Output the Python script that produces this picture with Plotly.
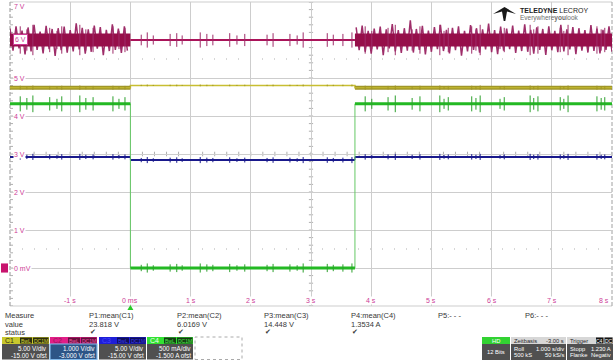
import numpy as np
import plotly.graph_objects as go

W, H = 616, 360
X0, X1 = 10, 612      # graticule pixel bounds (x)
Y0, Y1 = 2, 306       # graticule pixel bounds (y)

# ---------------- channel settings (from the scope) ----------------
T_MIN, T_MAX = -2.0, 8.0          # 1.000 s/div, 10 div
C1_VDIV, C1_OFST = 5.0, -15.0     # V
C2_VDIV, C2_OFST = 1.0, -3.0      # V
C3_VDIV, C3_OFST = 5.0, -15.0     # V
C4_VDIV, C4_OFST = 0.5, -1.5      # A

# ---------------- data ----------------
edge_t = [0.0, 3.73]              # load switching instants (s)

c1_noisy, c1_quiet = 23.72, 24.02     # C1 level (V) load on / load off
c2_level = 6.0                        # C2 level (V)
c3_on, c3_off = 14.62, 14.20          # C3 level (V)
c4_on, c4_off = 2.16, 0.0             # C4 current (A)

# ripple events (s)
event_t = [-1.83, -1.72, -1.62, -1.34, -1.22, -1.14, -0.84, -0.74, -0.62, -0.29, -0.19, -0.09,
           0.18, 0.28, 0.38, 0.66, 0.77, 0.86, 1.16, 1.27, 1.37, 1.65, 1.77, 1.90, 2.27, 2.37,
           2.65, 2.77, 2.87, 3.27, 3.37, 3.53, 3.68,
           3.90, 4.01, 4.28, 4.40, 4.68, 4.81, 5.14, 5.21, 5.28, 5.67, 5.74, 5.81, 6.14, 6.21,
           6.64, 6.70, 6.77, 7.14, 7.20, 7.27, 7.75, 7.82, 7.88]
event_rel = [0.9, 0.7, 1.0, 0.8, 0.6, 0.9, 1.0, 0.7, 0.8, 0.9, 0.6, 0.8,
             0.7, 1.0, 0.6, 0.8, 0.9, 0.6, 1.0, 0.8, 0.7, 0.9, 0.6, 0.8, 0.7, 0.9,
             0.8, 0.6, 1.0, 0.9, 0.7, 0.8, 1.0,
             0.9, 0.6, 0.8, 1.0, 0.7, 0.9, 1.0, 0.6, 0.8, 0.9, 0.7, 1.0, 0.6, 0.8,
             1.0, 0.7, 0.9, 0.8, 0.6, 1.0, 0.9, 0.7, 0.8]

# spike half-heights per channel (physical units)
c1_spike_quiet, c1_spike_noisy = 0.12, 0.30
c2_spike_quiet, c2_spike_noisy = 0.20, 0.40
c3_spike = 0.40
c4_spike_on, c4_spike_off = 0.11, 0.06

# C2 heavy ripple excursions (V from level), sampled every NOISE_DT
NOISE_DT = 0.05
c2_noise_pre = [0.30, -0.28, 0.36, -0.22, 0.25, -0.38, 0.33, -0.30, 0.40, -0.26,
                0.22, -0.35, 0.37, -0.24, 0.29, -0.42, 0.31, -0.27, 0.35, -0.33,
                0.26, -0.30, 0.44, -0.25, 0.32, -0.36, 0.28, -0.31, 0.38, -0.23,
                0.34, -0.40, 0.27, -0.29, 0.41, -0.26, 0.30, -0.34, 0.36, -0.28]
c2_noise_post = [0.33, -0.27, 0.38, -0.31, 0.24, -0.36, 0.30, -0.25, 0.35, -0.40,
                 0.28, -0.22, 0.42, -0.30, 0.26, -0.34, 0.31, -0.28, 0.52, -0.33,
                 0.29, -0.26, 0.37, -0.38, 0.25, -0.31, 0.34, -0.24, 0.40, -0.29,
                 0.27, -0.35, 0.32, -0.27, 0.36, -0.41, 0.24, -0.30, 0.39, -0.26,
                 0.31, -0.33, 0.28, -0.25, 0.43, -0.32, 0.26, -0.37, 0.35, -0.28,
                 0.30, -0.24, 0.38, -0.34, 0.25, -0.29, 0.41, -0.31, 0.27, -0.36,
                 0.33, -0.26, 0.29, -0.39, 0.36, -0.27, 0.24, -0.32, 0.40, -0.30,
                 0.28, -0.25, 0.34, -0.37, 0.31, -0.28, 0.26, -0.33, 0.39, -0.29,
                 0.30, -0.35, 0.27, -0.26, 0.36, -0.31]
c2_noise_post_start = 3.75

# time labels / volt labels
x_tick_vals = [-1, 0, 1, 2, 3, 4, 5, 6, 7, 8]
x_tick_text = ['-1 s', '0 ms', '1 s', '2 s', '3 s', '4 s', '5 s', '6 s', '7 s', '8 s']
y_tick_vals = [7, 6, 5, 4, 3, 2, 1, 0]
y_tick_text = ['7 V', '6 V', '5 V', '4 V', '3 V', '2 V', '1 V', '0 mV']

meas_names = ['P1:mean(C1)', 'P2:mean(C2)', 'P3:mean(C3)', 'P4:mean(C4)', 'P5:- - -', 'P6:- - -']
meas_values = ['23.818 V', '6.0169 V', '14.448 V', '1.3534 A', '', '']
meas_ok = [True, True, True, True, False, False]

# ---------------- helpers ----------------
def px(x):
    return x / W

def py(y):
    return 1 - y / H

def axis_range(vdiv, ofst):
    c = -ofst
    return [c - 4 * vdiv, c + 4 * vdiv]

def load_on(t):
    return t < edge_t[0] or t >= edge_t[1]

step_t = [T_MIN, edge_t[0], edge_t[0], edge_t[1], edge_t[1], T_MAX]
seg_t = [T_MIN, edge_t[0], None, edge_t[0], edge_t[1], None, edge_t[1], T_MAX]

def steps(on, off):
    return [on, on, off, off, on, on]

def segs(on, off):
    return [on, on, None, off, off, None, on, on]

def spike_xy(level_fn, amp_fn):
    xs, ys = [], []
    for t, r in zip(event_t, event_rel):
        lv = level_fn(t)
        a = amp_fn(t) * r
        xs += [t, t, None]
        ys += [lv - a, lv + a, None]
    return xs, ys

YEL = 'rgb(200,190,50)'
YEL_D = 'rgb(160,150,40)'
MAG = 'rgb(170,20,90)'
MAG_D = 'rgb(150,14,74)'
MAG_H = 'rgb(158,45,105)'
BLU = 'rgb(25,25,140)'
GRN = 'rgb(35,185,35)'
GRN_L = 'rgb(100,200,100)'
GRID = 'rgb(205,205,205)'
PINK = 'rgb(205,60,150)'
FONT = 'Liberation Sans, Arial, sans-serif'

fig = go.Figure()

def line(x, y, color, width, yaxis='y'):
    fig.add_trace(go.Scatter(x=x, y=y, mode='lines', yaxis=yaxis,
                             line=dict(color=color, width=width),
                             hoverinfo='skip', connectgaps=False))

# ---- C1 (yellow) ----
line(step_t, steps(c1_noisy, c1_quiet), YEL, 1.5, 'y2')
line([T_MIN, edge_t[0], None, edge_t[1], T_MAX],
     [c1_noisy, c1_noisy, None, c1_noisy, c1_noisy], YEL_D, 4, 'y2')
line([T_MIN, edge_t[0], None, edge_t[1], T_MAX],
     [c1_noisy, c1_noisy, None, c1_noisy, c1_noisy], YEL, 1.2, 'y2')
sx, sy = spike_xy(lambda t: c1_noisy if load_on(t) else c1_quiet,
                  lambda t: c1_spike_noisy if load_on(t) else c1_spike_quiet)
line(sx, sy, YEL_D, 1, 'y2')

# ---- C2 (magenta) ----
line([edge_t[0], edge_t[1]], [c2_level, c2_level], MAG, 2, 'y')
t_pre = [round(T_MIN + NOISE_DT * i, 4) for i in range(len(c2_noise_pre))]
t_post = [round(c2_noise_post_start + NOISE_DT * i, 4) for i in range(len(c2_noise_post))]
line(t_pre + [None] + t_post,
     [c2_level + v for v in c2_noise_pre] + [None] + [c2_level + v for v in c2_noise_post],
     MAG_H, 1.5, 'y')
line([T_MIN, edge_t[0], None, edge_t[1], T_MAX],
     [c2_level, c2_level, None, c2_level, c2_level], MAG_D, 13, 'y')
sx, sy = spike_xy(lambda t: c2_level,
                  lambda t: c2_spike_noisy if load_on(t) else c2_spike_quiet)
line(sx, sy, MAG_H, 1, 'y')

# ---- C3 (blue) ----
line(step_t, steps(c3_on, c3_off), BLU, 1, 'y2')
line(seg_t, segs(c3_on, c3_off), BLU, 2, 'y2')
sx, sy = spike_xy(lambda t: c3_on if load_on(t) else c3_off, lambda t: c3_spike)
line(sx, sy, BLU, 1, 'y2')

# ---- C4 (green) ----
line(step_t, steps(c4_on, c4_off), GRN_L, 1, 'y3')
line(seg_t, segs(c4_on, c4_off), GRN, 3, 'y3')
sx, sy = spike_xy(lambda t: c4_on if load_on(t) else c4_off,
                  lambda t: c4_spike_on if load_on(t) else c4_spike_off)
line(sx, sy, 'rgb(45,160,45)', 1, 'y3')

# ---------------- graticule decorations ----------------
shapes = []
annotations = []
TICKC = 'rgb(175,175,175)'
for v in np.arange(-1, 7.001, 0.2):
    shapes.append(dict(type='line', xref='x', yref='y', x0=3 - 0.035, x1=3 + 0.035, y0=v, y1=v,
                       line=dict(color=TICKC, width=1), layer='below'))
    shapes.append(dict(type='line', xref='x', yref='y', x0=-2, x1=-2 + 0.05, y0=v, y1=v,
                       line=dict(color=TICKC, width=1), layer='below'))
for t in np.arange(-2, 8.001, 0.2):
    shapes.append(dict(type='line', xref='x', yref='y', x0=t, x1=t, y0=3 - 0.06, y1=3 + 0.06,
                       line=dict(color=TICKC, width=1), layer='below'))
for v in (0.5, 5.5):
    shapes.append(dict(type='line', xref='x', yref='y', x0=-2, x1=8, y0=v, y1=v,
                       line=dict(color=TICKC, width=1, dash='1px,11px'), layer='below'))
# borders
shapes.append(dict(type='line', xref='paper', yref='paper', x0=px(X0), x1=px(X1), y0=py(Y0), y1=py(Y0),
                   line=dict(color=GRID, width=1), layer='below'))
shapes.append(dict(type='line', xref='paper', yref='paper', x0=px(X0), x1=px(X1), y0=py(Y1), y1=py(Y1),
                   line=dict(color=GRID, width=1), layer='below'))
shapes.append(dict(type='line', xref='paper', yref='paper', x0=px(X1), x1=px(X1), y0=py(Y0), y1=py(Y1),
                   line=dict(color='rgb(160,160,160)', width=1, dash='4px,2px'), layer='below'))
shapes.append(dict(type='line', xref='paper', yref='paper', x0=px(X0), x1=px(X0), y0=py(Y0), y1=py(Y1),
                   line=dict(color='rgb(150,150,150)', width=1, dash='4px,2px'), layer='below'))

# y labels
for v, s in zip(y_tick_vals, y_tick_text):
    a = dict(xref='paper', yref='y', x=px(13), y=v, text=s, showarrow=False, xanchor='left',
             yanchor='top' if v == 7 else 'middle', font=dict(size=7, color=PINK, family=FONT),
             bgcolor='white', borderpad=0)
    if v == 6:
        a.update(bordercolor=PINK, borderwidth=1, borderpad=1)
    annotations.append(a)
# C2 ground marker
shapes.append(dict(type='rect', xref='paper', yref='y', x0=px(1), x1=px(8), y0=-0.12, y1=0.12,
                   fillcolor='rgb(200,20,110)', line=dict(width=0)))
# x labels
for t, s in zip(x_tick_vals, x_tick_text):
    annotations.append(dict(xref='x', yref='paper', x=t, y=py(300), text=s, showarrow=False,
                            xanchor='right' if t == 8 else 'center', xshift=-2 if t == 8 else 0,
                            yanchor='middle', font=dict(size=7, color=PINK, family=FONT),
                            bgcolor='white', borderpad=0))
# trigger marker
shapes.append(dict(type='path', xref='x', yref='paper',
                   path=f'M -0.05,{py(310)} L 0.05,{py(310)} L 0,{py(305)} Z',
                   fillcolor='rgb(40,200,40)', line=dict(width=0)))

# ---------------- UI panels ----------------
TXT = 'rgb(55,55,55)'

def text(x, y, s, anchor='left', color=TXT, size=7.5, family=FONT):
    annotations.append(dict(xref='paper', yref='paper', x=px(x), y=py(y), text=s, showarrow=False,
                            xanchor=anchor, yanchor='middle', borderpad=0,
                            font=dict(size=size, color=color, family=family)))

def rect(x0, y0, x1, y1, fill, lc=None, dash=None, lw=1):
    shapes.append(dict(type='rect', xref='paper', yref='paper', x0=px(x0), x1=px(x1),
                       y0=py(y1), y1=py(y0), fillcolor=fill,
                       line=dict(width=lw if lc else 0, color=lc if lc else 'rgba(0,0,0,0)',
                                 dash=dash), layer='above'))

text(4, 315, 'Measure')
text(4, 324, 'value')
text(4, 332, 'status')
col_x = [88, 176, 263, 350, 437, 524]
for cx, n, v, ok in zip(col_x, meas_names, meas_values, meas_ok):
    text(cx, 315, n)
    if v:
        text(cx, 324, v)
    if ok:
        text(cx + 1, 332, '✔', size=7, family='DejaVu Sans')

chan_boxes = [
    ('C1', 2, 49, 'rgb(200,200,45)', 'rgb(45,45,15)', 'rgb(215,215,60)', 'rgb(45,45,15)',
     'rgb(80,80,80)', None, '5.00 V/div', '-15.00 V ofst'),
    ('C2', 50, 97, 'rgb(225,30,135)', 'rgb(100,15,60)', 'rgb(240,90,170)', 'rgb(150,20,90)',
     'rgb(45,85,135)', 'rgb(130,185,235)', '1.000 V/div', '-3.000 V ofst'),
    ('C3', 99, 146, 'rgb(30,30,215)', 'rgb(15,15,90)', 'rgb(60,60,240)', 'rgb(70,70,255)',
     'rgb(80,80,80)', None, '5.00 V/div', '-15.00 V ofst'),
    ('C4', 147, 193, 'rgb(50,225,50)', 'rgb(20,60,20)', 'rgb(80,235,80)', 'rgb(240,255,240)',
     'rgb(80,80,80)', None, '500 mA/div', '-1.500 A ofst'),
]
for name, x0, x1, hdr, tagbg, tagfg, namec, body, border, l1, l2 in chan_boxes:
    rect(x0, 337, x1, 344, hdr)
    rect(x1 - 29, 337.5, x1 - 17, 343.5, tagbg)
    rect(x1 - 16, 337.5, x1 - 0.5, 343.5, tagbg)
    text(x0 + 2, 340.5, name, color=namec, size=7)
    text(x1 - 23, 340.5, 'BwL', anchor='center', color=tagfg, size=5)
    text(x1 - 8.2, 340.5, 'DC1M', anchor='center', color=tagfg, size=5)
    rect(x0, 344, x1, 359.5, body, lc=border, lw=1.2)
    text(x1 - 1.5, 348.5, l1, anchor='right', color='white', size=6.3)
    text(x1 - 1.5, 355, l2, anchor='right', color='white', size=6.3)
rect(195, 337, 242, 359.5, 'rgba(0,0,0,0)', lc='rgb(170,170,170)', dash='dot', lw=1)

SZ = 5.8
# HD box
rect(482, 337, 510, 344, 'rgb(50,210,50)')
text(496, 340.5, 'HD', anchor='center', color='white', size=SZ)
rect(482, 344, 510, 360, 'rgb(80,80,80)')
text(496, 352, '12 Bits', anchor='center', color='white', size=SZ)
# time base box
rect(511, 337, 566, 344, 'rgb(215,215,215)')
text(513, 340.5, 'Zeitbasis', color='rgb(40,40,40)', size=SZ)
text(565, 340.5, '-3.00 s', anchor='right', color='rgb(40,40,40)', size=SZ)
rect(511, 344, 566, 360, 'rgb(80,80,80)')
text(513, 348.5, 'Roll', color='white', size=SZ)
text(565, 348.5, '1.000 s/div', anchor='right', color='white', size=SZ)
text(513, 355, '500 kS', color='white', size=SZ)
text(565, 355, '50 kS/s', anchor='right', color='white', size=SZ)
# trigger box
rect(567, 337, 613, 344, 'rgb(215,215,215)')
text(569, 340.5, 'Trigger', color='rgb(40,40,40)', size=SZ)
rect(596, 337.5, 603.5, 343.5, 'rgb(20,20,20)')
rect(604.5, 337.5, 612.5, 343.5, 'rgb(20,20,20)')
text(599.8, 340.5, 'C4', anchor='center', color='white', size=5)
text(608.5, 340.5, 'DC', anchor='center', color='white', size=5)
rect(567, 344, 613, 360, 'rgb(80,80,80)')
text(569, 348.5, 'Stopp', color='white', size=SZ)
text(612, 348.5, '1.230 A', anchor='right', color='white', size=SZ)
text(569, 355, 'Flanke', color='white', size=SZ)
text(612, 355, 'Negativ', anchor='right', color='white', size=SZ)

# logo
logo = 'M {},{} L {},{} L {},{} L {},{} L {},{} L {},{} L {},{} Z'.format(
    px(493), py(14), px(504.5), py(7), px(516), py(14), px(507), py(11.5),
    px(505.3), py(21), px(503.7), py(21), px(502), py(11.5))
shapes.append(dict(type='path', xref='paper', yref='paper', path=logo,
                   fillcolor='rgb(25,25,25)', line=dict(width=0)))
text(519, 10.5, '<b>TELEDYNE</b> LECROY', color='rgb(30,30,30)', size=7)
text(519, 18, 'Everywhere<b>you</b>look', color='rgb(110,110,110)', size=6.5)

fig.update_layout(
    width=W, height=H, margin=dict(l=0, r=0, t=0, b=0),
    paper_bgcolor='white', plot_bgcolor='white', showlegend=False,
    xaxis=dict(domain=[px(X0), px(X1)], range=[T_MIN, T_MAX], dtick=1, tick0=0,
               showgrid=True, gridcolor=GRID, gridwidth=1, zeroline=False,
               showticklabels=False, ticks='', showline=False),
    yaxis=dict(domain=[py(Y1), py(Y0)], range=axis_range(C2_VDIV, C2_OFST), dtick=1, tick0=0,
               showgrid=True, gridcolor=GRID, gridwidth=1, zeroline=False,
               showticklabels=False, ticks='', showline=False),
    yaxis2=dict(overlaying='y', range=axis_range(C1_VDIV, C1_OFST), visible=False),
    yaxis3=dict(overlaying='y', range=axis_range(C4_VDIV, C4_OFST), visible=False),
    shapes=shapes, annotations=annotations,
)

fig.write_html('out.html', config={'displayModeBar': False},
               post_script="document.body.style.margin='0px';document.body.style.overflow='hidden';")
